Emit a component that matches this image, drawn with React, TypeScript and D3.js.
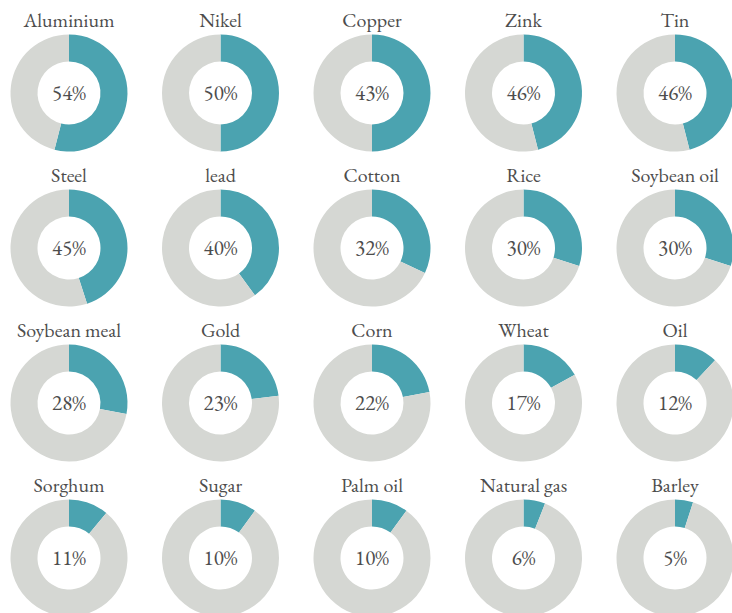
import React from "react";
import * as d3 from "d3";

const commodities = [
  "Aluminium", "Nikel", "Copper", "Zink", "Tin",
  "Steel", "lead", "Cotton", "Rice", "Soybean oil",
  "Soybean meal", "Gold", "Corn", "Wheat", "Oil",
  "Sorghum", "Sugar", "Palm oil", "Natural gas", "Barley",
];
const labelPercents = [54, 50, 43, 46, 46, 45, 40, 32, 30, 30, 28, 23, 22, 17, 12, 11, 10, 10, 6, 5];
// arc shares as drawn in the picture (Copper's arc is drawn at about half)
const arcPercents = [54, 50, 50, 46, 46, 45, 40, 32, 30, 30, 28, 23, 22, 17, 12, 11, 10, 10, 6, 5];
const columns = [0, 1, 2, 3, 4];
const rows = [0, 1, 2, 3];

const W = 732;
const H = 613;
const TEAL = "#4ba3b0";
const GRAY = "#d5d7d3";
const TEXT = "#4d4d4d";
const FONT = '"EB Garamond"';

export default function App() {
  const x = d3.scalePoint<number>().domain(columns).range([69, 675]);
  const y = d3.scalePoint<number>().domain(rows).range([93, 558]);
  const outerR = 58.5;
  const innerR = 31.5;
  const arc = d3.arc<d3.PieArcDatum<number>>().innerRadius(innerR).outerRadius(outerR);
  const pie = d3.pie<number>().sort(null).value((d) => d);

  return (
    <svg
      width={W}
      height={H}
      style={{ position: "absolute", left: 0, top: 0, background: "#fff" }}
    >
      {commodities.map((name, i) => {
        const cx = x(i % 5)!;
        const cy = y(Math.floor(i / 5))!;
        const arcs = pie([arcPercents[i], 100 - arcPercents[i]]);
        return (
          <g key={name} transform={`translate(${cx},${cy})`}>
            {arcs.map((a, j) => (
              <path key={j} d={arc(a) || ""} fill={j === 0 ? TEAL : GRAY} />
            ))}
            <text y={-66} textAnchor="middle" style={{ fontFamily: FONT, fontSize: 20 }} fill={TEXT}>
              {name}
            </text>
            <text y={6.5} textAnchor="middle" style={{ fontFamily: FONT, fontSize: 21 }} fill={TEXT}>
              {labelPercents[i]}%
            </text>
          </g>
        );
      })}
    </svg>
  );
}
